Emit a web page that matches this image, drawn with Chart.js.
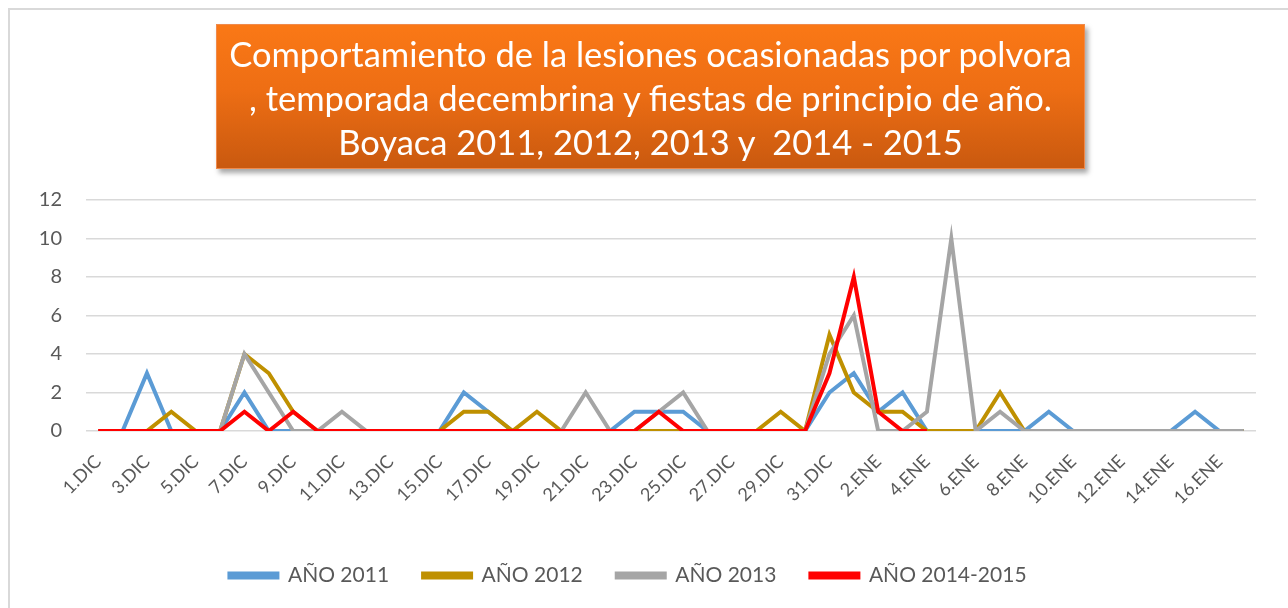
<!DOCTYPE html>
<html>
<head>
<meta charset="utf-8">
<script src="https://cdn.jsdelivr.net/npm/chart.js@4.4.0/dist/chart.umd.min.js"></script>
<style>
  html, body { margin: 0; padding: 0; background: #fff; }
  #wrap { position: relative; width: 1288px; height: 608px; overflow: hidden; }
  #frame { position: absolute; left: 8px; top: 8px; width: 1300px; height: 620px; border: 2px solid #D9D9D9; box-sizing: border-box; }
  #title {
    position: absolute; left: 216px; top: 24px; width: 869px; height: 145px;
    box-sizing: border-box; border: 1px solid #F08A4B;
    background: linear-gradient(to bottom, #FA7816 0%, #EE6E14 45%, #C9590F 100%);
    box-shadow: 3px 4px 5px rgba(0,0,0,0.35);
    color: #fff; font-family: Lato, "Open Sans", sans-serif; font-size: 34.5px;
    line-height: 44px; text-align: center; padding-top: 7px; white-space: nowrap;
  }
  canvas { position: absolute; left: 0; top: 0; }
</style>
</head>
<body>
<div id="wrap">
  <div id="frame"></div>
  <canvas id="lineChart" width="1288" height="608"></canvas>
  <div id="title">Comportamiento de la lesiones ocasionadas por polvora<br>, temporada decembrina y fiestas de principio de año.<br>Boyaca 2011, 2012, 2013 y&nbsp; 2014 - 2015</div>
</div>
<script>
const days = [
  "1.DIC","2.DIC","3.DIC","4.DIC","5.DIC","6.DIC","7.DIC","8.DIC","9.DIC","10.DIC",
  "11.DIC","12.DIC","13.DIC","14.DIC","15.DIC","16.DIC","17.DIC","18.DIC","19.DIC","20.DIC",
  "21.DIC","22.DIC","23.DIC","24.DIC","25.DIC","26.DIC","27.DIC","28.DIC","29.DIC","30.DIC","31.DIC",
  "1.ENE","2.ENE","3.ENE","4.ENE","5.ENE","6.ENE","7.ENE","8.ENE","9.ENE","10.ENE",
  "11.ENE","12.ENE","13.ENE","14.ENE","15.ENE","16.ENE","17.ENE"
];
const y2011 = [0,0,3,0,0,0,2,0,0,0, 0,0,0,0,0,2,1,0,0,0, 0,0,1,1,1,0,0,0,0,0,2, 3,1,2,0,0,0,0,0,1,0, 0,0,0,0,1,0,0];
const y2012 = [0,0,0,1,0,0,4,3,1,0, 0,0,0,0,0,1,1,0,1,0, 0,0,0,0,0,0,0,0,1,0,5, 2,1,1,0,0,0,2,0,0,0, 0,0,0,0,0,0,0];
const y2013 = [0,0,0,0,0,0,4,2,0,0, 1,0,0,0,0,0,0,0,0,0, 2,0,0,1,2,0,0,0,0,0,4, 6,0,0,1,10,0,1,0,0,0, 0,0,0,0,0,0,0];
const y2014 = [0,0,0,0,0,0,1,0,1,0, 0,0,0,0,0,0,0,0,0,0, 0,0,0,1,0,0,0,0,0,0,3, 8,1,0,0,null,null,null,null,null,null, null,null,null,null,null,null,null];
const yTicks = [0,2,4,6,8,10,12];

const seriesNames = ["AÑO 2011","AÑO 2012","AÑO 2013","AÑO 2014-2015"];
const colors = ["#5B9BD5","#BF9000","#A5A5A5","#FF0000"];
const values = [y2011, y2012, y2013, y2014];

const ds = values.map((v, i) => ({
  label: seriesNames[i],
  data: v,
  borderColor: colors[i],
  backgroundColor: colors[i],
  borderWidth: 4,
  pointRadius: 0,
  tension: 0,
  fill: false,
  spanGaps: false,
  order: 4 - i
}));

const ctx = document.getElementById("lineChart").getContext("2d");
new Chart(ctx, {
  type: 'line',
  data: { labels: days, datasets: ds },
  options: {
    responsive: false,
    animation: false,
    layout: { padding: { top: 200, right: 32, bottom: 12, left: 0 } },
    plugins: {
      tooltip: { enabled: false },
      legend: {
        position: 'bottom',
        labels: {
          sort: (a, b) => a.datasetIndex - b.datasetIndex,
          boxWidth: 48, boxHeight: 4, padding: 34,
          color: '#595959',
          font: { family: 'Lato, "Open Sans", sans-serif', size: 21 }
        }
      }
    },
    scales: {
      x: {
        offset: true,
        grid: { display: false },
        border: { display: false },
        afterFit: (s) => { s.height = 100; },
        ticks: {
          autoSkip: false, minRotation: 45, maxRotation: 45,
          color: '#595959', padding: 12,
          font: { family: 'Lato, "Open Sans", sans-serif', size: 18 },
          callback: function(val, idx) { return idx % 2 === 0 ? this.getLabelForValue(val) : ''; }
        }
      },
      y: {
        min: 0, max: 12,
        afterFit: (s) => { s.width = 86; },
        afterBuildTicks: (s) => { s.ticks = yTicks.map(v => ({ value: v })); },
        grid: { color: '#D9D9D9', lineWidth: 1.5, drawTicks: false },
        border: { display: false },
        ticks: {
          color: '#595959', padding: 24,
          font: { family: 'Lato, "Open Sans", sans-serif', size: 20 }
        }
      }
    }
  }
});
</script>
</body>
</html>
